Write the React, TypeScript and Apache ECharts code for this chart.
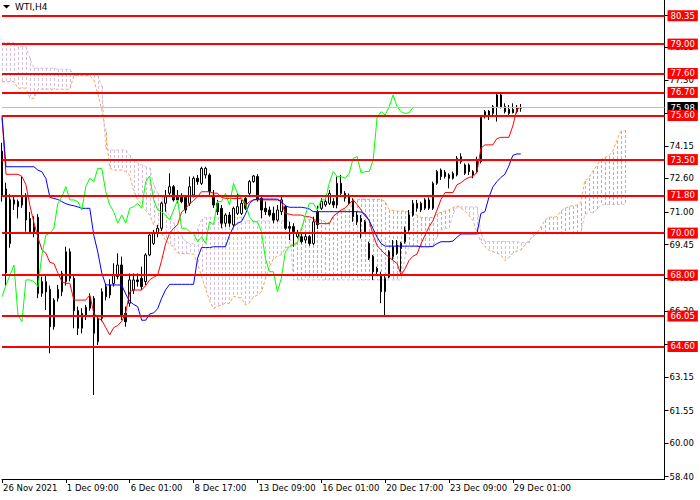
import React, { useEffect, useRef } from "react";
import * as echarts from "echarts";

// ---------- axis texts ----------
const SLOT_COUNT = 167; // bar slots 0..166 (incl. future cloud area)
const TICK_EVERY = 16;
const xTickLabels = [
  "26 Nov 2021",
  "1 Dec 09:00",
  "6 Dec 01:00",
  "8 Dec 17:00",
  "13 Dec 09:00",
  "16 Dec 01:00",
  "20 Dec 17:00",
  "23 Dec 09:00",
  "29 Dec 01:00",
];
// all tick marks of the price scale
const yTicks = [58.4, 60.0, 61.55, 63.15, 64.7, 66.3, 67.85, 69.45, 71.0, 72.6, 74.15, 75.7, 77.3, 78.85, 80.35];
// tick labels that are not fully covered by the level boxes
const yTickLabels = [58.4, 60.0, 61.55, 63.15, 66.3, 67.85, 69.45, 71.0, 72.6, 74.15, 77.3, 78.85];
const Y_MIN = 58.29;
const Y_MAX = 81.1;

// ---------- horizontal levels ----------
const levels = [80.35, 79.0, 77.6, 76.7, 75.6, 73.5, 71.8, 70.0, 68.0, 66.05, 64.6];
const lastPrice = 75.98;
const symbolText = "WTI,H4";

// ---------- candles (H4) ----------
const opens = [
  73.9, 72.1, 69.5, 71.58, 71.5, 71.34, 71.8, 70.7, 70.0, 70.75,
  67.13, 67.2, 67.32, 65.54, 66.89, 67.21, 67.69, 69.11, 67.85, 66.31,
  65.47, 66.1, 66.42, 66.89, 64.83, 65.94, 67.45, 67.05, 67.6, 67.93,
  68.48, 66.18, 66.66, 67.29, 67.77, 67.85, 67.69, 68.96, 69.51, 69.99,
  70.23, 71.42, 71.9, 72.21, 71.73, 71.73, 71.73, 71.42, 71.81, 72.61,
  72.37, 72.77, 72.77, 71.81, 71.42, 71.18, 70.47, 70.86, 70.39, 70.94,
  70.94, 71.65, 71.89, 72.45, 72.69, 71.65, 71.18, 71.1, 70.94, 70.62,
  71.02, 71.26, 70.31, 70.31, 69.83, 69.83, 69.67, 69.83, 69.51, 71.0,
  71.18, 71.34, 71.42, 71.5, 71.34, 72.37, 71.89, 71.81, 71.58, 70.86,
  70.7, 70.54, 69.51, 68.88, 68.32, 68.0, 67.21, 67.92, 68.88, 69.04,
  69.27, 69.59, 70.15, 70.86, 71.18, 71.42, 71.18, 71.18, 71.18, 72.37,
  73.0, 72.9, 72.77, 72.61, 72.77, 73.4, 73.24, 73.24, 72.77, 72.93,
  73.4, 75.54, 75.81, 75.7, 76.02, 76.58, 76.02, 75.89, 75.89, 75.78,
  75.94,
];
const highs = [
  74.3, 72.4, 71.85, 71.73, 71.6, 72.69, 71.9, 71.0, 70.8, 70.9,
  67.93, 68.0, 67.5, 66.9, 67.53, 68.2, 69.35, 69.27, 67.95, 66.5,
  66.42, 66.58, 67.13, 67.0, 66.1, 67.37, 67.6, 67.8, 68.56, 69.04,
  68.88, 66.5, 68.08, 68.08, 68.08, 68.4, 69.04, 69.99, 70.15, 70.39,
  71.5, 72.05, 72.85, 72.29, 72.05, 71.9, 71.8, 72.69, 72.7, 72.77,
  73.16, 73.16, 72.85, 72.05, 71.58, 71.34, 70.94, 71.0, 71.26, 71.89,
  71.58, 71.73, 72.53, 72.77, 72.81, 71.73, 71.5, 71.26, 71.26, 71.34,
  71.73, 71.34, 70.54, 70.47, 70.15, 69.99, 69.99, 69.9, 70.78, 71.3,
  71.66, 71.66, 72.05, 71.66, 72.69, 72.77, 72.0, 71.89, 71.66, 71.02,
  70.86, 70.62, 69.59, 68.96, 68.4, 68.16, 67.95, 69.19, 69.67, 69.67,
  69.59, 70.31, 71.1, 71.58, 71.58, 71.5, 71.66, 71.7, 72.45, 73.0,
  73.08, 73.0, 72.85, 72.93, 73.67, 73.8, 73.32, 73.32, 73.0, 73.64,
  75.62, 75.86, 75.86, 76.1, 76.62, 76.62, 76.18, 76.1, 76.18, 76.1,
  76.15,
];
const lows = [
  71.5, 67.5, 69.3, 71.1, 70.7, 71.2, 70.07, 69.99, 69.8, 66.9,
  66.97, 66.34, 64.28, 65.4, 66.74, 67.0, 67.5, 67.7, 65.47, 65.15,
  65.23, 65.86, 66.3, 62.29, 64.67, 65.8, 66.8, 66.9, 67.45, 67.8,
  65.86, 65.54, 66.5, 67.1, 67.45, 67.3, 67.53, 68.9, 69.43, 69.8,
  70.1, 71.02, 71.8, 71.5, 71.42, 71.42, 70.94, 71.3, 71.7, 72.3,
  72.29, 72.6, 71.73, 71.2, 70.86, 70.23, 70.3, 70.3, 70.3, 70.86,
  70.86, 71.1, 71.8, 72.4, 71.5, 70.7, 70.86, 70.78, 70.47, 70.54,
  70.86, 70.15, 69.67, 69.35, 69.75, 69.5, 69.51, 69.4, 69.43, 70.2,
  71.1, 71.26, 71.34, 71.2, 71.18, 71.81, 71.5, 71.34, 70.54, 70.39,
  69.75, 69.99, 68.72, 67.77, 68.0, 66.66, 66.1, 67.85, 68.72, 68.96,
  68.16, 69.5, 70.07, 70.78, 71.02, 71.0, 71.1, 71.1, 71.1, 72.3,
  72.53, 72.6, 72.13, 72.55, 72.7, 73.3, 72.77, 72.77, 72.61, 72.85,
  73.32, 75.46, 75.39, 75.62, 75.31, 75.94, 75.7, 75.62, 75.7, 75.7,
  75.78,
];
const closes = [
  71.8, 68.1, 71.6, 71.38, 71.26, 71.73, 70.62, 70.07, 70.3, 67.13,
  67.69, 67.69, 65.54, 66.81, 67.32, 68.08, 69.11, 67.85, 66.31, 65.47,
  66.18, 66.47, 66.97, 65.23, 65.94, 67.21, 66.97, 67.53, 68.0, 68.48,
  66.1, 65.78, 67.77, 67.77, 67.69, 67.45, 68.96, 69.91, 69.99, 70.23,
  71.42, 71.73, 72.21, 71.58, 71.58, 71.5, 71.1, 72.21, 72.61, 72.45,
  73.08, 73.08, 71.97, 71.34, 71.02, 70.47, 70.86, 70.47, 71.18, 71.26,
  71.42, 71.18, 72.45, 72.72, 71.58, 71.1, 71.02, 70.86, 70.62, 71.1,
  71.58, 70.23, 70.23, 70.07, 69.99, 69.59, 69.83, 69.51, 70.54, 70.4,
  71.5, 71.5, 71.89, 71.34, 72.37, 71.89, 71.66, 71.42, 70.78, 70.54,
  70.54, 70.07, 68.8, 68.16, 68.16, 67.21, 67.85, 69.11, 69.35, 69.43,
  69.51, 70.15, 70.86, 71.42, 71.42, 71.1, 71.58, 71.58, 72.37, 72.93,
  72.69, 72.69, 72.61, 72.85, 73.56, 73.64, 72.85, 72.93, 72.93, 73.48,
  75.54, 75.78, 75.62, 76.02, 76.58, 76.02, 75.78, 75.7, 75.73, 75.99,
  75.98,
];

// ---------- Ichimoku lines ----------
const tenkan = [
  75.5, 72.8, 72.8, 72.8, 72.8, 72.7, 72.3, 71.3, 70.5, 69.8,
  69.2, 69.04, 68.6, 68.56, 68.1, 67.69, 67.61, 67.61, 66.81, 66.81,
  66.81, 66.81, 67.05, 66.2, 65.95, 65.85, 65.5, 65.15, 65.5, 65.6,
  65.8, 66.2, 67.2, 67.29, 67.29, 67.29, 67.5, 67.77, 67.9, 68.0,
  68.7, 69.5, 69.99, 70.23, 70.4, 71.0, 71.18, 71.4, 71.55, 71.73,
  71.97, 71.97, 71.97, 71.9, 71.9, 71.7, 71.65, 71.65, 71.65, 71.65,
  71.65, 71.3, 71.5, 71.58, 71.6, 71.58, 71.58, 71.58, 71.58, 71.58,
  71.5, 70.94, 70.9, 70.86, 70.86, 70.86, 70.78, 70.78, 70.7, 70.45,
  70.45, 70.45, 70.45, 70.8, 70.95, 71.1, 71.2, 71.4, 71.58, 71.35,
  71.1, 70.8, 70.6, 69.9, 69.4, 69.2, 69.0, 68.85, 68.7, 68.55,
  68.0, 68.3, 68.7, 68.9, 69.0, 69.5, 69.9, 70.3, 70.6, 71.1,
  71.6, 71.93, 71.93, 71.93, 72.3, 72.4, 72.55, 72.65, 72.69, 72.9,
  74.04, 74.2, 74.2, 74.2, 74.5, 74.56, 74.56, 74.56, 75.1, 75.9,
  76.0,
];
const kijun = [
  75.6, 73.16, 73.16, 73.16, 73.16, 73.16, 73.16, 73.16, 73.16, 73.0,
  72.92, 72.6, 71.7, 71.65, 71.6, 71.5, 71.4, 71.34, 71.3, 71.25,
  71.18, 71.18, 71.18, 69.9, 69.1, 68.1, 67.53, 67.53, 67.53, 67.53,
  67.53, 67.1, 66.75, 66.6, 66.5, 65.85, 65.85, 66.15, 66.2, 66.4,
  66.9, 67.3, 67.56, 67.56, 67.56, 67.56, 67.56, 67.56, 67.56, 68.8,
  69.31, 69.31, 69.31, 69.35, 69.35, 69.35, 69.35, 69.9, 70.3, 70.47,
  70.55, 70.9, 71.4, 71.58, 71.62, 71.62, 71.62, 71.62, 71.62, 71.62,
  71.5, 71.3, 71.23, 71.23, 71.23, 71.23, 71.2, 71.15, 71.02, 71.02,
  71.02, 71.02, 71.02, 71.02, 71.02, 71.02, 71.02, 71.02, 71.02, 71.02,
  71.0, 70.9, 70.6, 70.2, 69.8, 69.5, 69.38, 69.38, 69.38, 69.38,
  69.38, 69.38, 69.38, 69.38, 69.38, 69.35, 69.35, 69.35, 69.37, 69.5,
  69.59, 69.59, 69.59, 69.62, 69.8, 69.96, 69.96, 69.96, 69.96, 69.96,
  70.94, 71.02, 71.7, 72.2, 72.45, 72.65, 72.8, 73.2, 73.7, 73.77,
  73.77,
];
const chikou = [
  66.97, 67.53, 68.0, 68.48, 66.1, 65.78, 67.77, 67.77, 67.69, 67.45,
  68.96, 69.91, 69.99, 70.23, 71.42, 71.73, 72.21, 71.58, 71.58, 71.5,
  71.1, 72.21, 72.61, 72.45, 73.08, 73.08, 71.97, 71.34, 71.02, 70.47,
  70.86, 70.47, 71.18, 71.26, 71.42, 71.18, 72.45, 72.72, 71.58, 71.1,
  71.02, 70.86, 70.62, 71.1, 71.58, 70.23, 70.23, 70.07, 69.99, 69.59,
  69.83, 69.51, 70.54, 70.4, 71.5, 71.5, 71.89, 71.34, 72.37, 71.89,
  71.66, 71.42, 70.78, 70.54, 70.54, 70.07, 68.8, 68.16, 68.16, 67.21,
  67.85, 69.11, 69.35, 69.43, 69.51, 70.15, 70.86, 71.42, 71.42, 71.1,
  71.58, 71.58, 72.37, 72.93, 72.69, 72.69, 72.61, 72.85, 73.56, 73.64,
  72.85, 72.93, 72.93, 73.48, 75.54, 75.78, 75.62, 76.02, 76.58, 76.02,
  75.78, 75.7, 75.73, 75.99, 75.98,
];
const senkouA = [
  77.21, 77.21, 77.21, 77.21, 76.9, 76.9, 76.9, 76.42, 76.42, 76.85,
  76.85, 76.85, 76.85, 76.85, 76.85, 76.85, 76.85, 76.85, 77.5, 77.5,
  77.5, 77.5, 77.5, 77.3, 76.65, 75.86, 74.8, 73.1, 73.0, 73.0,
  73.0, 72.93, 72.75, 72.0, 71.6, 71.35, 71.08, 70.86, 70.4, 70.3,
  70.0, 69.65, 69.48, 69.35, 69.05, 69.03, 69.02, 69.02, 69.0, 68.55,
  67.95, 67.35, 66.8, 66.4, 66.5, 66.57, 66.67, 66.65, 66.98, 66.95,
  66.9, 66.57, 66.68, 66.96, 67.05, 67.2, 67.8, 68.4, 68.78, 68.9,
  68.98, 69.28, 69.37, 69.48, 69.56, 70.27, 70.64, 70.64, 70.64, 70.63,
  70.63, 70.53, 70.5, 70.78, 70.98, 71.06, 71.1, 71.1, 71.45, 71.58,
  71.61, 71.6, 71.6, 71.6, 71.6, 71.6, 71.5, 71.12, 71.07, 71.05,
  71.05, 71.05, 70.99, 70.97, 70.85, 70.74, 70.74, 70.74, 70.74, 70.91,
  70.99, 71.06, 71.11, 71.21, 71.3, 71.19, 71.05, 70.85, 70.6, 70.05,
  69.6, 69.35, 69.19, 69.12, 69.04, 68.97, 68.69, 68.84, 69.04, 69.14,
  69.19, 69.43, 69.63, 69.83, 69.99, 70.3, 70.6, 70.76, 70.76, 70.78,
  71.05, 71.18, 71.26, 71.31, 71.33, 71.43, 72.49, 72.61, 72.95, 73.2,
  73.48, 73.6, 73.68, 73.88, 74.4, 74.84, 74.89,
];
const senkouB = [
  79.07, 79.07, 79.07, 79.07, 78.88, 78.88, 78.88, 78.32, 77.85, 77.85,
  77.85, 77.85, 77.85, 77.85, 77.8, 77.8, 77.8, 77.8, 77.55, 77.55,
  77.55, 77.55, 77.55, 77.55, 77.5, 77.0, 74.0, 73.96, 73.96, 73.96,
  73.96, 73.96, 73.7, 73.48, 73.33, 73.25, 73.15, 73.1, 72.3, 71.9,
  71.7, 71.1, 70.8, 70.47, 70.1, 69.85, 69.6, 69.5, 69.5, 70.2,
  70.65, 70.75, 70.75, 70.75, 70.75, 70.75, 70.75, 70.75, 70.75, 70.75,
  70.75, 70.58, 70.58, 70.58, 70.58, 70.58, 70.58, 70.58, 70.58, 70.58,
  70.58, 70.58, 70.58, 67.77, 67.77, 67.77, 67.77, 67.77, 67.77, 67.77,
  67.77, 67.77, 67.77, 67.77, 67.77, 67.77, 67.77, 67.77, 67.77, 67.77,
  67.77, 67.77, 67.77, 67.77, 67.77, 67.77, 67.77, 67.77, 67.77, 67.77,
  67.77, 68.9, 69.35, 69.35, 69.35, 69.35, 69.35, 69.35, 69.35, 69.83,
  70.13, 70.23, 70.23, 70.9, 71.25, 71.25, 71.25, 71.25, 71.25, 71.25,
  70.0, 69.6, 69.6, 69.6, 69.6, 69.6, 69.6, 69.6, 69.6, 69.6,
  69.55, 69.55, 69.55, 69.97, 69.97, 69.97, 69.97, 69.97, 69.97, 69.97,
  69.97, 69.97, 69.97, 69.97, 69.97, 69.97, 70.86, 70.98, 70.98, 71.1,
  71.34, 71.36, 71.36, 71.36, 71.36, 71.36, 71.36,
];

// ---------- colours ----------
const C_TENKAN = "#ff0000";
const C_KIJUN = "#0000ff";
const C_CHIKOU = "#00ff00";
const C_SPAN_A = "#f4a460";
const C_SPAN_B = "#d8bfd8";
const FONT = "DejaVu Sans";
const DASH = 3;
const GAP = 2;

// vertical dotted hatch between the two spans, drawn as 1px dash rectangles
function hatchSeries(name: string, data: number[][], color: string) {
  return {
    name,
    type: "custom",
    data,
    encode: { x: 0, y: [1, 2] },
    clip: true,
    silent: true,
    z: 1,
    itemStyle: { color },
    renderItem: (_params: any, api: any) => {
      const i = api.value(0);
      const p1 = api.coord([i, api.value(1)]);
      const p2 = api.coord([i, api.value(2)]);
      const x = Math.round(p1[0]);
      const top = Math.round(Math.min(p1[1], p2[1]));
      const bottom = Math.round(Math.max(p1[1], p2[1]));
      const children: any[] = [];
      for (let y = top; y < bottom; y += DASH + GAP) {
        children.push({
          type: "rect",
          shape: { x, y, width: 1, height: Math.min(DASH, bottom - y) },
          style: { fill: color, stroke: "none" },
        });
      }
      return { type: "group", children };
    },
  };
}

export default function App() {
  const ref = useRef<HTMLDivElement>(null);

  useEffect(() => {
    if (!ref.current) return;
    const chart = echarts.init(ref.current, undefined, { renderer: "svg" });

    const cats = Array.from({ length: SLOT_COUNT }, (_, i) => String(i));
    const showTick = (idx: number) => idx % TICK_EVERY === 0 && idx / TICK_EVERY < xTickLabels.length;
    const candleData = opens.map((o, i) => [o, closes[i], lows[i], highs[i]]);
    const cloudRows = senkouA.map((a, i) => [i, a, senkouB[i]]);
    const cloudUp = cloudRows.filter((r) => r[1] > r[2]);
    const cloudDown = cloudRows.filter((r) => r[1] <= r[2]);

    const option: any = {
      animation: false,
      backgroundColor: "#ffffff",
      grid: { left: 0.5, right: 35.5, top: 0, bottom: 21, containLabel: false },
      xAxis: {
        type: "category",
        data: cats,
        boundaryGap: false,
        axisLine: { show: true, lineStyle: { color: "#000", width: 1 } },
        axisTick: { show: true, length: 4, interval: showTick, lineStyle: { color: "#000" } },
        axisLabel: {
          interval: showTick,
          formatter: (_v: string, idx: number) => xTickLabels[idx / TICK_EVERY] ?? "",
          align: "left",
          color: "#000",
          fontFamily: FONT,
          fontSize: 8.5,
          margin: 4,
          padding: [0, 0, 0, 1],
        },
        splitLine: { show: false },
      },
      yAxis: {
        type: "value",
        position: "right",
        min: Y_MIN,
        max: Y_MAX,
        axisLine: { show: true, lineStyle: { color: "#000", width: 1 } },
        axisTick: { show: true, length: 4, customValues: yTicks, lineStyle: { color: "#000" } },
        axisLabel: {
          customValues: yTickLabels,
          formatter: (v: number) => v.toFixed(2),
          color: "#000",
          fontFamily: FONT,
          fontSize: 8.5,
          margin: 5,
        },
        splitLine: { show: false },
      },
      graphic: [
        {
          type: "polygon",
          shape: { points: [[3, 5], [10, 5], [6.5, 8.5]] },
          style: { fill: "#000" },
        },
        {
          type: "text",
          left: 15,
          top: 2,
          style: { text: symbolText, fill: "#000", font: `9px "${FONT}"` },
        },
      ],
      series: [
        hatchSeries("cloud up", cloudUp, C_SPAN_A),
        hatchSeries("cloud down", cloudDown, C_SPAN_B),
        {
          name: "Senkou A",
          type: "line",
          data: senkouA,
          showSymbol: false,
          silent: true,
          z: 2,
          itemStyle: { color: C_SPAN_A },
          lineStyle: { color: C_SPAN_A, width: 1, type: [3, 2] },
        },
        {
          name: "Senkou B",
          type: "line",
          data: senkouB,
          showSymbol: false,
          silent: true,
          z: 2,
          itemStyle: { color: C_SPAN_B },
          lineStyle: { color: C_SPAN_B, width: 1, type: [3, 2] },
        },
        {
          name: "WTI",
          type: "candlestick",
          data: candleData,
          barWidth: 2,
          silent: true,
          z: 3,
          itemStyle: {
            color: "#ffffff",
            color0: "#000000",
            borderColor: "#000000",
            borderColor0: "#000000",
            borderWidth: 1,
          },
        },
        {
          name: "Tenkan",
          type: "line",
          data: tenkan,
          showSymbol: false,
          silent: true,
          z: 4,
          lineStyle: { color: C_TENKAN, width: 1 },
        },
        {
          name: "Kijun",
          type: "line",
          data: kijun,
          showSymbol: false,
          silent: true,
          z: 4,
          lineStyle: { color: C_KIJUN, width: 1 },
        },
        {
          name: "Chikou",
          type: "line",
          data: chikou,
          showSymbol: false,
          silent: true,
          z: 4,
          lineStyle: { color: C_CHIKOU, width: 1 },
        },
        {
          name: "levels",
          type: "line",
          data: cats.map(() => null),
          showSymbol: false,
          silent: true,
          z: 10,
          markLine: {
            silent: true,
            symbol: ["none", "none"],
            animation: false,
            lineStyle: { color: "#ff0000", width: 2, type: "solid" },
            label: {
              show: true,
              position: "end",
              distance: 3,
              formatter: (p: any) => Number(p.value).toFixed(2),
              backgroundColor: "#ff0000",
              color: "#ffffff",
              fontFamily: FONT,
              fontSize: 8.5,
              padding: [1, 3, 1, 3],
            },
            data: [
              {
                yAxis: lastPrice,
                lineStyle: { color: "#c0c0c0", width: 1, type: "solid" },
                label: { backgroundColor: "#000000", color: "#ffffff" },
              },
              ...levels.map((v) => ({ yAxis: v })),
            ],
          },
        },
      ],
    };

    chart.setOption(option);
    return () => {
      chart.dispose();
    };
  }, []);

  return (
    <div
      ref={ref}
      style={{ position: "absolute", left: 0, top: 0, width: 700, height: 500, background: "#fff" }}
    />
  );
}
